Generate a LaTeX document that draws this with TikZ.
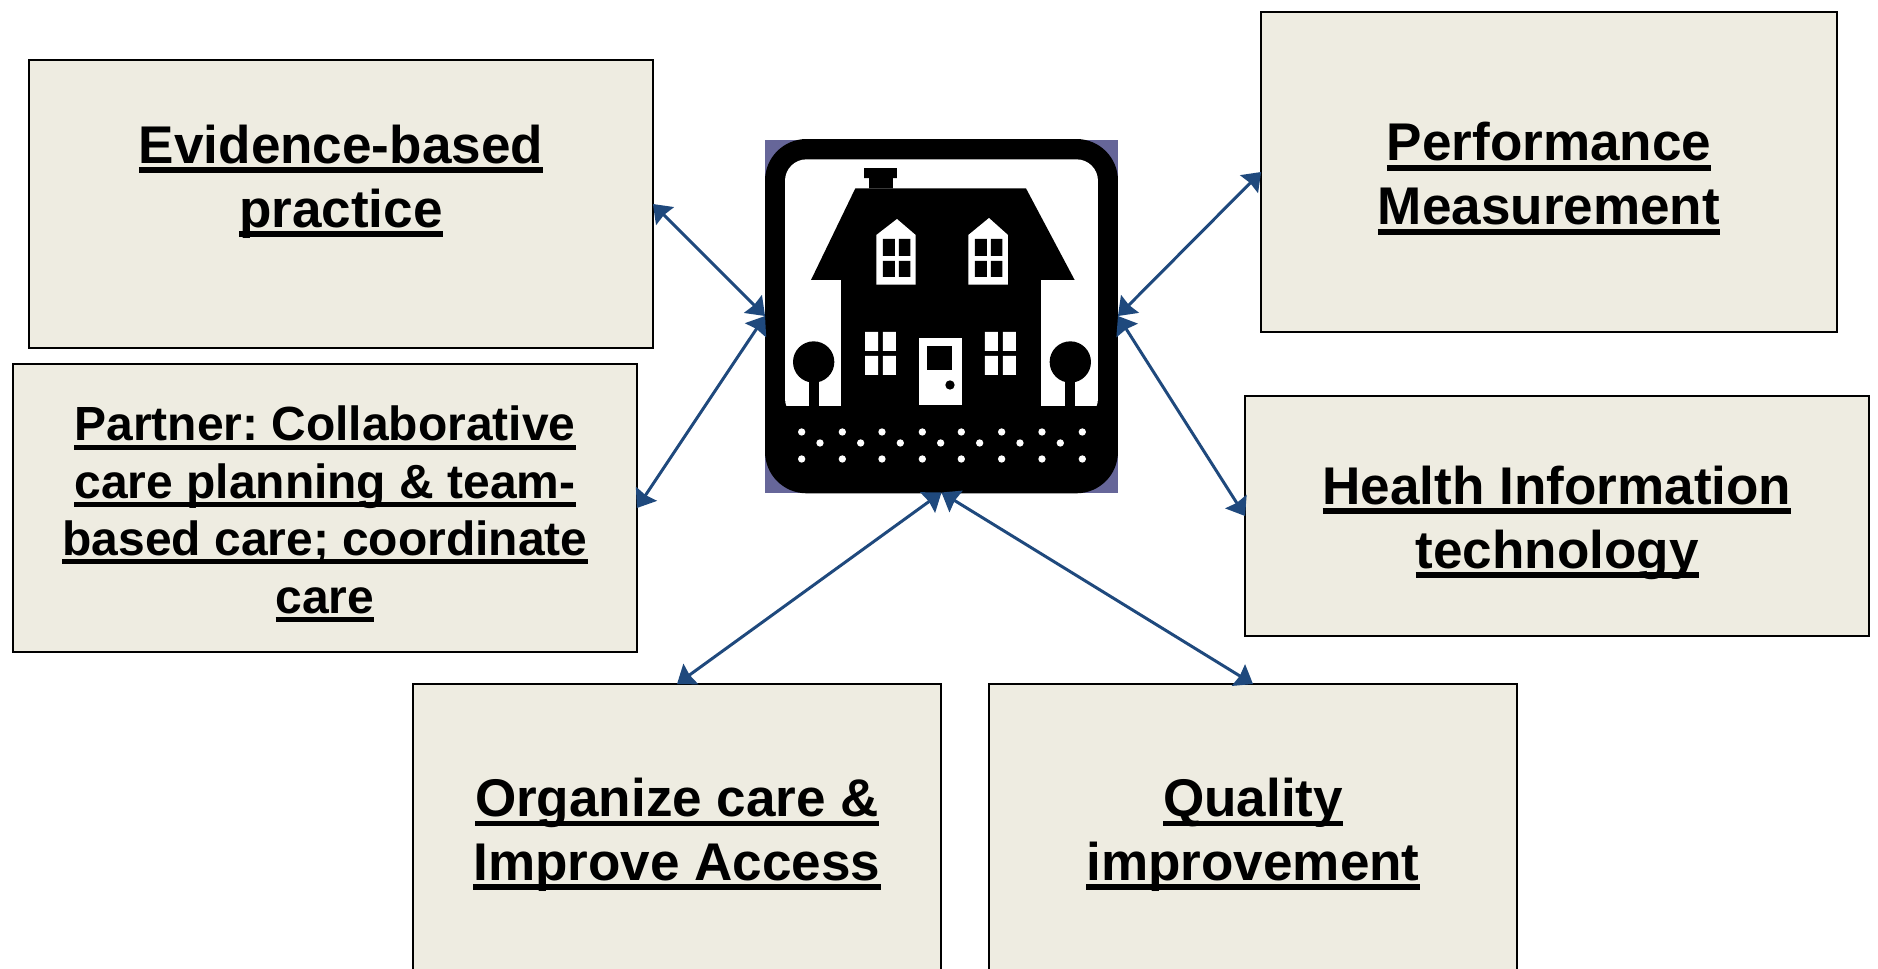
\documentclass[tikz,border=0pt]{standalone}
\usepackage{fontspec}
\setmainfont{Liberation Sans}
\usepackage{tikz}
\usetikzlibrary{arrows.meta,positioning}
\definecolor{boxtan}{HTML}{EEECE1}
\definecolor{arrowblue}{HTML}{1F497D}
\definecolor{cornerblue}{HTML}{666699}
\newcommand{\ulword}[1]{\setbox0=\hbox{#1}\copy0\kern-\wd0\rule[-.185em]{\wd0}{.105em}}
\newcommand{\topstrut}{\rule{0pt}{.97em}}
\tikzset{
  infobox/.style={draw=black,fill=boxtan,line width=1.4pt,align=center,inner sep=0pt,outer sep=0pt,
    font=\frenchspacing\bfseries\fontsize{30.2}{36.4}\selectfont},
  smalltext/.style={font=\frenchspacing\bfseries\fontsize{27.3}{32.7}\selectfont},
  link/.style={draw=arrowblue,line width=1.7pt,
    {Stealth[length=.34cm,width=.5cm,inset=.03cm]}-{Stealth[length=.34cm,width=.5cm,inset=.03cm]}}
}
\begin{document}
\begin{tikzpicture}[x=.02cm,y=-.02cm]
\clip (0,0) rectangle (1878,968);
%draw boxes
    \node (evidence) [infobox,minimum width=12.48cm,minimum height=5.76cm] at (341,204)
        {\topstrut\ulword{Evidence-based}\\\ulword{practice}\\[3pt]\mbox{}};
    \node (partner) [infobox,smalltext,minimum width=12.48cm,minimum height=5.76cm] at (325,508)
        {\topstrut\ulword{Partner: Collaborative}\\\ulword{care planning \& team-}\\\ulword{based care; coordinate}\\\ulword{care}};
    \node (performance) [infobox,minimum width=11.52cm,minimum height=6.4cm] at (1549,172)
        {\topstrut\ulword{Performance}\\\ulword{Measurement}};
    \node (health) [infobox,minimum width=12.48cm,minimum height=4.8cm] at (1557,516)
        {\topstrut\ulword{Health Information}\\\ulword{technology}};
    \node (organize) [infobox,minimum width=10.56cm,minimum height=5.76cm] at (677,828)
        {\topstrut\ulword{Organize care \&}\\\ulword{Improve Access}};
    \node (quality) [infobox,minimum width=10.56cm,minimum height=5.76cm] at (1253,828)
        {\topstrut\ulword{Quality}\\\ulword{improvement}};
%draw house
    \node (house) [minimum size=7.06cm,inner sep=0pt,outer sep=0pt] at (941.5,316) {};
    \begin{scope}[shift={(740,120)},scale=.3333]
       \fill[cornerblue] (75,60) rectangle (1134,1118);
       \fill[black,rounded corners=.83cm] (75,57) rectangle (1134,1120);
       \fill[white,rounded corners=.43cm] (135,118) rectangle (1074,900);
       \fill[black] (100,858) rectangle (1110,1000);
%roof and walls
       \fill[black] (346,205) -- (858,205) -- (1004,480) -- (903,480) -- (903,858)
           -- (303,858) -- (303,480) -- (213,480) -- cycle;
       \fill[black] (387,174) rectangle (459,205) (372,144) rectangle (471,174);
%upper windows
       \fill[white] (409,345) -- (471,297) -- (527,345) -- (527,494) -- (409,494) -- cycle;
       \fill[white] (685,345) -- (747,294) -- (804,345) -- (804,494) -- (685,494) -- cycle;
       \foreach \wx in {429,705} {
          \fill[black] (\wx,357) rectangle +(36,51) (\wx+48,357) rectangle +(34,51);
          \fill[black] (\wx,423) rectangle +(36,48) (\wx+48,423) rectangle +(34,48);
       }
%lower windows
       \foreach \wx in {375,735} {
          \fill[white] (\wx,636) rectangle +(39,57) (\wx+54,636) rectangle +(39,57);
          \fill[white] (\wx,708) rectangle +(39,57) (\wx+54,708) rectangle +(39,57);
       }
%door
       \fill[white] (537,654) rectangle (666,855);
       \fill[black] (561,678) rectangle (637,750);
       \fill[black] (630,795) circle (14);
%trees
       \foreach \tx in {221,991} {
          \fill[black] (\tx,726) circle (62);
          \fill[black] (\tx-15,780) rectangle +(30,78);
       }
%insert dots
       \foreach \dx in {185,307,426,547,664,785,906,1027} {
          \fill[white] (\dx,936) circle (11) (\dx,1017) circle (11);
       }
       \foreach \dx in {240,362,481,602,719,840,961} {
          \fill[white] (\dx,969) circle (11);
       }
    \end{scope}
%draw double arrows
    \draw[link] (evidence.east) -- (house.west);
    \draw[link] (partner.east) -- (house.west);
    \draw[link] (performance.west) -- (house.east);
    \draw[link] (health.west) -- (house.east);
    \draw[link] (organize.north) -- (house.south);
    \draw[link] (quality.north) -- (house.south);
\end{tikzpicture}
\end{document}
